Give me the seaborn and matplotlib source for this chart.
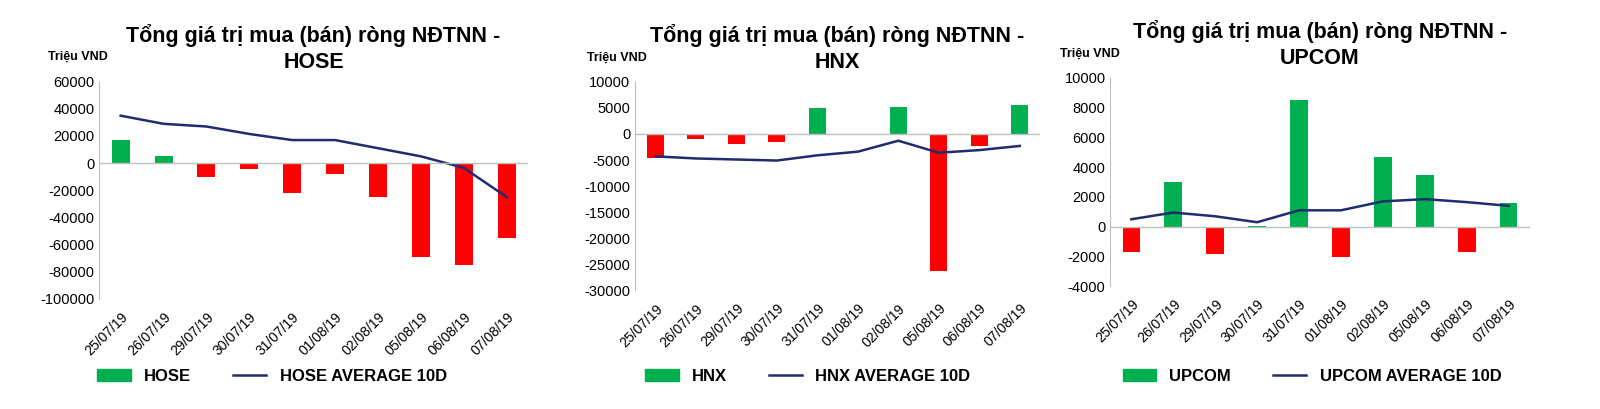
import matplotlib
matplotlib.use("Agg")
import matplotlib.pyplot as plt
import seaborn as sns
import numpy as np
import pandas as pd
from matplotlib.patches import Patch
from matplotlib.lines import Line2D

# ── Data ─────────────────────────────────────────────────────────────────────
dates = ["25/07/19", "26/07/19", "29/07/19", "30/07/19", "31/07/19",
         "01/08/19", "02/08/19", "05/08/19", "06/08/19", "07/08/19"]

hose_net = [17000, 5000, -10500, -4500, -22000, -8000, -25000, -69000, -75000, -55000]
hose_avg = [35000, 29000, 27000, 21500, 17000, 17000, 11000, 5000, -3500, -25000]

hnx_net = [-4700, -900, -1900, -1600, 5000, -200, 5100, -26200, -2300, 5500]
hnx_avg = [-4300, -4700, -4900, -5100, -4100, -3400, -1300, -3600, -3100, -2300]

upcom_net = [-1700, 3000, -1800, 50, 8500, -2000, 4650, 3450, -1700, 1600]
upcom_avg = [500, 950, 700, 300, 1100, 1100, 1700, 1850, 1650, 1400]

GREEN = "#00b050"
RED = "#ff0000"
NAVY = "#1f2d6e"

panels = [
    ("HOSE", hose_net, hose_avg, (-100000, 60000), 20000, [0.062, 0.27, 0.268, 0.53], 0.17),
    ("HNX", hnx_net, hnx_avg, (-30000, 10000), 5000, [0.397, 0.29, 0.253, 0.51], 0.505),
    ("UPCOM", upcom_net, upcom_avg, (-4000, 10000), 2000, [0.694, 0.30, 0.262, 0.51], 0.82),
]

plt.rcParams["font.family"] = "Liberation Sans"
plt.rcParams["axes.unicode_minus"] = False
fig = plt.figure(figsize=(16, 4.09), dpi=100)

for name, net, avg, ylim, step, rect, leg_x in panels:
    ax = fig.add_axes(rect)
    df = pd.DataFrame({"date": dates, "net": net})
    colors = [GREEN if v >= 0 else RED for v in net]
    sns.barplot(data=df, x="date", y="net", hue="date", palette=colors,
                legend=False, width=0.42, ax=ax, saturation=1)
    ax.plot(range(len(avg)), avg, color=NAVY, linewidth=1.8)
    ax.axhline(0, color="#bfbfbf", linewidth=1)
    ax.set_ylim(*ylim)
    ax.set_yticks(np.arange(ylim[0], ylim[1] + 1, step))
    ax.set_xlim(-0.5, len(dates) - 0.5)
    ax.set_xlabel("")
    ax.set_ylabel("")
    ax.set_xticks(range(len(dates)))
    ax.set_xticklabels(dates, rotation=45, ha="right", rotation_mode="anchor", fontsize=10)
    ax.tick_params(axis="y", labelsize=10.5, length=0)
    ax.tick_params(axis="x", length=0, pad=8)
    for s in ["top", "right", "bottom"]:
        ax.spines[s].set_visible(False)
    ax.spines["left"].set_color("#bfbfbf")
    ax.set_title(f"Tổng giá trị mua (bán) ròng NĐTNN -\n{name}",
                 fontsize=15.5, fontweight="bold", pad=10, linespacing=1.3)
    ax.text(-0.12, 1.1, "Triệu VND", transform=ax.transAxes, fontsize=9,
            fontweight="bold", ha="left")
    handles = [Patch(color=GREEN), Line2D([], [], color=NAVY, linewidth=1.8)]
    ax.legend(handles, [name, f"{name} AVERAGE 10D"], loc="center",
              bbox_to_anchor=(leg_x, 0.08), bbox_transform=fig.transFigure,
              ncol=2, frameon=False, prop={"weight": "bold", "size": 12},
              columnspacing=2.5)

fig.savefig("out.png", dpi=100)
